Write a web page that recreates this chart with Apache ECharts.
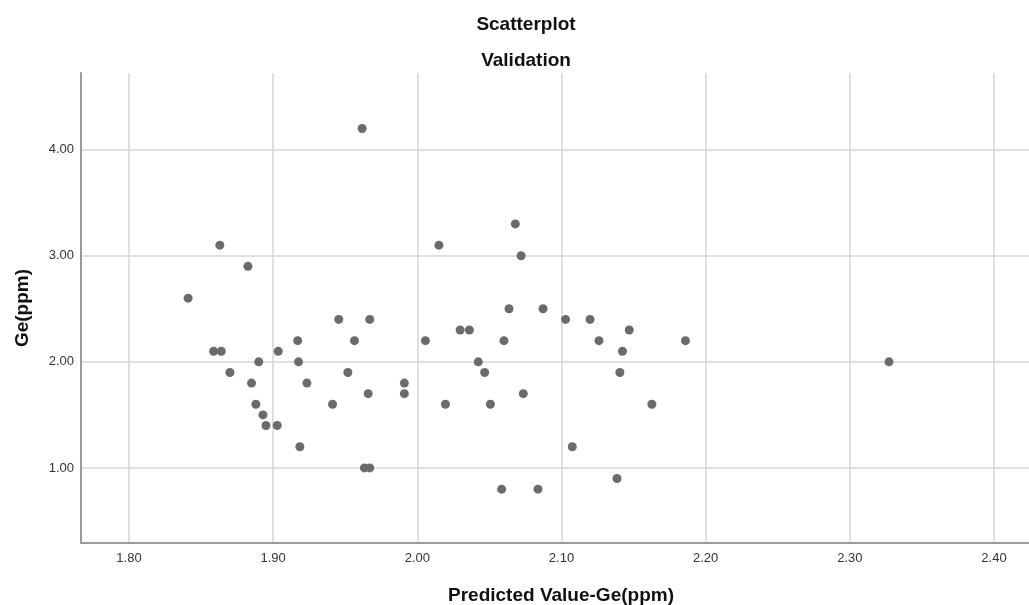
<!DOCTYPE html>
<html>
<head>
<meta charset="utf-8">
<script src="https://cdn.jsdelivr.net/npm/echarts@6/dist/echarts.min.js"></script>
<style>
html,body{margin:0;padding:0;background:#fff;}
#chart{width:1029px;height:605px;}
</style>
</head>
<body>
<div id="chart"></div>
<script>
// Predicted values (x) and observed Ge(ppm) (y)
const predicted = [
  1.863, 1.8825, 1.841, 2.015, 1.9455, 1.967, 1.917, 1.9564, 2.0056, 1.8587,
  1.864, 1.9035, 1.890, 1.9176, 1.870, 1.9518, 1.885, 1.9234, 1.991, 1.9659,
  1.991, 1.888, 1.9412, 1.8929, 1.895, 1.9028, 1.9185, 1.9633, 1.967,
  2.068, 2.072, 2.0636, 2.0872, 2.1028, 2.1198, 2.0297, 2.0361, 2.147, 2.0601,
  2.126, 2.186, 2.1423, 2.0423, 2.0467, 2.1405, 2.0735, 2.0195, 2.0507, 2.1627,
  2.1075, 2.1385, 2.0585, 2.0837, 1.9617, 2.3272
];
const observed = [
  3.10, 2.90, 2.60, 3.10, 2.40, 2.40, 2.20, 2.20, 2.20, 2.10,
  2.10, 2.10, 2.00, 2.00, 1.90, 1.90, 1.80, 1.80, 1.80, 1.70,
  1.70, 1.60, 1.60, 1.50, 1.40, 1.40, 1.20, 1.00, 1.00,
  3.30, 3.00, 2.50, 2.50, 2.40, 2.40, 2.30, 2.30, 2.30, 2.20,
  2.20, 2.20, 2.10, 2.00, 1.90, 1.90, 1.70, 1.60, 1.60, 1.60,
  1.20, 0.90, 0.80, 0.80, 4.20, 2.00
];
const xTicks = [1.80, 1.90, 2.00, 2.10, 2.20, 2.30, 2.40];
const yTicks = [1.00, 2.00, 3.00, 4.00];

const points = predicted.map((x, i) => [x, observed[i]]);

const chart = echarts.init(document.getElementById('chart'), null, {renderer: 'canvas'});
const fontFam = 'Liberation Sans, Arial, sans-serif';
chart.setOption({
  animation: false,
  backgroundColor: '#ffffff',
  title: [
    {text: 'Scatterplot', left: 521, top: 10, textAlign: 'center',
     textStyle: {fontFamily: fontFam, fontSize: 19, fontWeight: 'bold', color: '#111'}},
    {text: 'Validation', left: 521, top: 46, textAlign: 'center',
     textStyle: {fontFamily: fontFam, fontSize: 19, fontWeight: 'bold', color: '#111'}}
  ],
  grid: {left: 81, right: 0, top: 73, bottom: 62, containLabel: false, outerBoundsMode: 'none'},
  xAxis: {
    type: 'value',
    min: 1.7667, max: 2.4243,
    name: 'Predicted Value-Ge(ppm)',
    nameLocation: 'middle',
    nameGap: 43,
    nameTextStyle: {fontFamily: fontFam, fontSize: 19, fontWeight: 'bold', color: '#111', padding: [0, 0, 0, 12]},
    axisLine: {show: true, lineStyle: {color: '#9a9a9a', width: 2}},
    axisTick: {show: false, customValues: xTicks},
    axisLabel: {customValues: xTicks, formatter: v => v.toFixed(2), margin: 9,
      fontFamily: fontFam, fontSize: 13, color: '#333'},
    splitLine: {show: true, lineStyle: {color: '#d4d4d4', width: 1.5}}
  },
  yAxis: {
    type: 'value',
    min: 0.2925, max: 4.7226,
    name: 'Ge(ppm)',
    nameLocation: 'middle',
    nameGap: 49,
    nameRotate: 90,
    nameTextStyle: {fontFamily: fontFam, fontSize: 19, fontWeight: 'bold', color: '#111'},
    axisLine: {show: true, lineStyle: {color: '#9a9a9a', width: 2}},
    axisTick: {show: false, customValues: yTicks},
    axisLabel: {customValues: yTicks, formatter: v => v.toFixed(2), margin: 7,
      fontFamily: fontFam, fontSize: 13, color: '#333'},
    splitLine: {show: true, lineStyle: {color: '#d4d4d4', width: 1.5}}
  },
  series: [{
    type: 'scatter',
    data: points,
    symbol: 'circle',
    symbolSize: 9,
    itemStyle: {color: '#6b6b6b', opacity: 1},
    clip: false
  }]
});
</script>
</body>
</html>
